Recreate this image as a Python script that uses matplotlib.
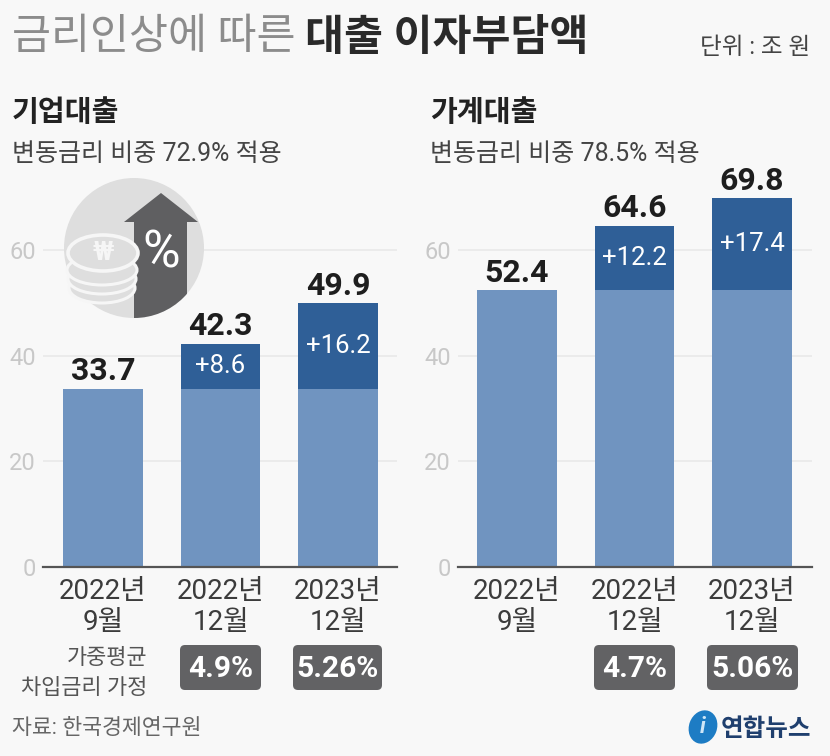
import matplotlib
matplotlib.use('Agg')
import matplotlib.pyplot as plt
from matplotlib.patches import Circle, Ellipse, Polygon, Rectangle, FancyBboxPatch

plt.rcParams['font.family'] = ['Roboto', 'Noto Sans CJK KR', 'DejaVu Sans']

# -------------------------------
# Data
# -------------------------------
categories = ['2022년\n9월', '2022년\n12월', '2023년\n12월']
corp_base = [33.7, 33.7, 33.7]
corp_added = [0, 8.6, 16.2]
corp_rates = ['', '4.9%', '5.26%']
house_base = [52.4, 52.4, 52.4]
house_added = [0, 12.2, 17.4]
house_rates = ['', '4.7%', '5.06%']
y_ticks = [0, 20, 40, 60]

W, H = 830, 756
BG = '#f8f8f8'
LIGHT_BLUE = '#7094c0'
DARK_BLUE = '#2f5f97'
BOX_GREY = '#626264'

fig = plt.figure(figsize=(W / 100, H / 100), dpi=100, facecolor=BG)

# y scale: 0 at pixel 567, 60 at pixel 250
TOP_VAL = 72
PX_PER_UNIT = (567 - 250) / 60
ax_top = 567 - TOP_VAL * PX_PER_UNIT


def draw_panel(x0, x1, first_center, base, added):
    ax = fig.add_axes([x0 / W, 1 - 567 / H, (x1 - x0) / W, (567 - ax_top) / H], facecolor='none')
    step = 117.5
    ax.set_xlim((x0 - first_center) / step, (x1 - first_center) / step)
    ax.set_ylim(0, TOP_VAL)
    xs = range(len(categories))
    ax.bar(xs, base, width=0.68, color=LIGHT_BLUE, zorder=3)
    ax.bar(xs, added, bottom=base, width=0.68, color=DARK_BLUE, zorder=3)
    for i in xs:
        total = base[i] + added[i]
        ax.text(i, total + 0.5, f'{total:.1f}', ha='center', va='bottom', fontsize=23,
                fontweight='bold', color='#1e1e1e', zorder=5)
        if added[i] > 0:
            ax.text(i, base[i] + added[i] / 2, f'+{added[i]}', ha='center', va='center',
                    fontsize=18.5, color='white', zorder=5)
    ax.set_xticks(list(xs))
    ax.set_xticklabels(categories, fontsize=20, color='#3c3c3c', linespacing=1.2)
    ax.set_yticks(y_ticks)
    ax.set_yticklabels([str(v) for v in y_ticks], fontsize=17, color='#c8c8c8')
    ax.tick_params(axis='x', length=0, pad=8)
    ax.tick_params(axis='y', length=0, pad=5)
    ax.grid(axis='y', color='#e9e9e9', linewidth=1.2, zorder=0)
    for side in ['top', 'left', 'right']:
        ax.spines[side].set_visible(False)
    ax.spines['bottom'].set_color('#555555')
    ax.spines['bottom'].set_linewidth(1.6)
    ax.spines['bottom'].set_zorder(6)
    return ax


draw_panel(43, 397, 103, corp_base, corp_added)
draw_panel(458, 812, 517, house_base, house_added)

# -------------------------------
# Overlay in pixel coordinates
# -------------------------------
ov = fig.add_axes([0, 0, 1, 1], facecolor='none', zorder=10)
ov.set_xlim(0, W)
ov.set_ylim(H, 0)
ov.axis('off')

# Titles
ov.text(12, 38, '금리인상에 따른', fontsize=30.5, color='#8c8c8c', va='center')
ov.text(305, 38, '대출 이자부담액', fontsize=30.5, color='#2a2a2a', va='center', fontweight='bold')
ov.text(810, 48, '단위 : 조 원', fontsize=17, color='#444444', va='center', ha='right')

ov.text(12, 113, '기업대출', fontsize=21, color='#222222', va='center', fontweight='bold')
ov.text(12, 154, '변동금리 비중 72.9% 적용', fontsize=18, color='#444444', va='center')
ov.text(430, 113, '가계대출', fontsize=21, color='#222222', va='center', fontweight='bold')
ov.text(430, 154, '변동금리 비중 78.5% 적용', fontsize=18, color='#444444', va='center')


# Rate boxes
def rate_box(x0, x1, label):
    ov.add_patch(FancyBboxPatch((x0 + 4, 649), x1 - x0 - 8, 37,
                                boxstyle='round,pad=4,rounding_size=5', fc=BOX_GREY, ec='none'))
    ov.text((x0 + x1) / 2, 669, label, fontsize=21.5, fontweight='bold', color='white',
            ha='center', va='center')


rate_box(180, 261, corp_rates[1])
rate_box(293, 382, corp_rates[2])
rate_box(594, 675, house_rates[1])
rate_box(707, 798, house_rates[2])

ov.text(147, 659, '가중평균', fontsize=15.8, color='#555555', ha='right', va='center')
ov.text(147, 689, '차입금리 가정', fontsize=15.8, color='#555555', ha='right', va='center')
ov.text(12, 729, '자료: 한국경제연구원', fontsize=15.6, color='#666666', va='center')

# Logo
ov.add_patch(Ellipse((703, 727), 28, 34, angle=20, fc='#1d7cc4', ec='none'))
ov.text(703, 727, 'i', fontsize=16, style='italic', color='#cfe6f7', ha='center', va='center', fontweight='bold')
ov.text(811, 729, '연합뉴스', fontsize=17.7, fontweight='bold', color='#1f3f6e', ha='right', va='center')

# Icon
ov.add_patch(Circle((134, 248), 70, fc='#dedede', ec='none', zorder=1))
shaft = Rectangle((134, 215), 53, 110, fc='#5f5f61', ec='none', zorder=2)
ov.add_patch(shaft)
shaft.set_clip_path(Circle((134, 248), 70, transform=ov.transData))
ov.add_patch(Polygon([(161, 193), (198, 222), (124, 222)], closed=True, fc='#5f5f61', ec='none', zorder=2))
for cy, rx in [(288, 33), (279, 34), (270, 35)]:
    ov.add_patch(Ellipse((102, cy), rx * 2, 30, fc='#dedede', ec='#f6f6f6', lw=2.2, zorder=3))
ov.add_patch(Ellipse((103, 253), 70, 36, fc='#dedede', ec='#f6f6f6', lw=2.6, zorder=4))
ov.text(103, 253, '₩', fontsize=19, fontweight='bold', color='#f6f6f6', ha='center', va='center', zorder=5)
ov.text(161, 253, '%', fontsize=37, color='white', ha='center', va='center', zorder=5)

fig.savefig('out.png', dpi=100, facecolor=BG)
